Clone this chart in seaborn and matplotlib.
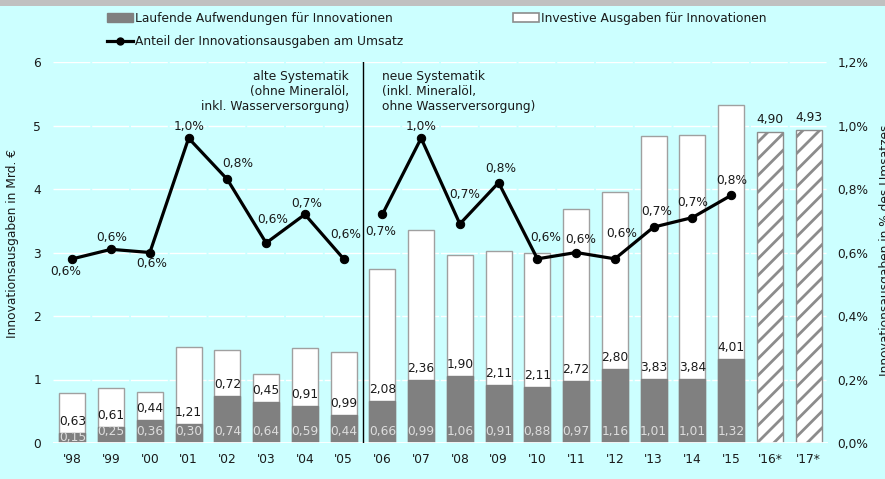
import numpy as np
import pandas as pd
import matplotlib
matplotlib.use("Agg")
import matplotlib.pyplot as plt
from matplotlib.patches import Patch, Rectangle
from matplotlib.lines import Line2D
import seaborn as sns

# ---------------- data ----------------
years = ["'98", "'99", "'00", "'01", "'02", "'03", "'04", "'05", "'06", "'07",
         "'08", "'09", "'10", "'11", "'12", "'13", "'14", "'15", "'16*", "'17*"]
hist_years = years[:18]
forecast_years = years[18:]
running = [0.15, 0.25, 0.36, 0.30, 0.74, 0.64, 0.59, 0.44, 0.66, 0.99,
           1.06, 0.91, 0.88, 0.97, 1.16, 1.01, 1.01, 1.32]
investive = [0.63, 0.61, 0.44, 1.21, 0.72, 0.45, 0.91, 0.99, 2.08, 2.36,
             1.90, 2.11, 2.11, 2.72, 2.80, 3.83, 3.84, 4.01]
forecast_total = [4.90, 4.93]
share = [0.58, 0.61, 0.60, 0.96, 0.83, 0.63, 0.72, 0.58,
         0.72, 0.96, 0.69, 0.82, 0.58, 0.60, 0.58, 0.68, 0.71, 0.78]
system = ["alt"] * 8 + ["neu"] * 10
left_ticks = [0, 1, 2, 3, 4, 5, 6]
right_ticks = [0.0, 0.2, 0.4, 0.6, 0.8, 1.0, 1.2]

# label offsets (pixels) for the share labels, purely layout
share_label_offsets = [(-7, -13), (1, 12), (2, -11), (0, 12), (10, 16), (7, 23),
                       (2, 11), (2, 24), (-2, -17), (0, 12), (5, 29), (2, 14),
                       (8, 21), (5, 13), (7, 25), (3, 16), (0, 15), (1, 15)]

def de(v, fmt="{:.2f}"):
    return fmt.format(v).replace(".", ",")

# ---------------- style ----------------
BG = "#CCFFFF"
TXT = "#1a1a1a"
FS = 8.8
plt.rcParams["font.family"] = ["DejaVu Sans"]
plt.rcParams["font.size"] = FS
plt.rcParams["hatch.linewidth"] = 2.0
plt.rcParams["hatch.color"] = "#8C8C8C"

fig = plt.figure(figsize=(8.85, 4.79), dpi=100)
fig.patch.set_facecolor(BG)
fig.add_artist(Rectangle((0, 1 - 6 / 479), 1, 6 / 479, transform=fig.transFigure,
                         facecolor="#C0C0C0", edgecolor="none"))

ax = fig.add_axes([53 / 885, 36 / 479, 775 / 885, 381 / 479])
ax.set_facecolor(BG)

df_hist = pd.DataFrame({"year": hist_years,
                        "total": np.array(running) + np.array(investive),
                        "running": running,
                        "investive": investive})
df_fc = pd.DataFrame({"year": forecast_years, "total": forecast_total})

common = dict(order=years, width=0.67, saturation=1, errorbar=None, ax=ax)
sns.barplot(data=df_hist, x="year", y="total", color="white",
            edgecolor="#A0A0A0", linewidth=1.0, zorder=3, **common)
sns.barplot(data=df_hist, x="year", y="running", color="#808080",
            edgecolor="#808080", linewidth=1.0, zorder=3, **common)
sns.barplot(data=df_fc, x="year", y="total", color="white",
            edgecolor="#8C8C8C", linewidth=1.0, hatch="//", zorder=3, **common)

# bar labels
for i, yr in enumerate(hist_years):
    pos = years.index(yr)
    dy = 11 if running[i] >= 0.2 else 5
    ax.annotate(de(running[i]), (pos, 0), xytext=(0, dy), textcoords="offset pixels",
                ha="center", va="center", color="#DDDDDD", zorder=5)
    ax.annotate(de(investive[i]), (pos, running[i]), xytext=(0, 11.5),
                textcoords="offset pixels", ha="center", va="center", color=TXT, zorder=5)
for i, yr in enumerate(forecast_years):
    pos = years.index(yr)
    ax.annotate(de(forecast_total[i]), (pos, forecast_total[i]), xytext=(0, 12),
                textcoords="offset pixels", ha="center", va="center", color=TXT, zorder=5)

# grid and axes cosmetics
ax.set_ylim(0, 6)
ax.set_yticks(left_ticks)
ax.set_yticklabels([str(t) for t in left_ticks])
for t in left_ticks[1:]:
    ax.axhline(t, color="white", lw=1.0, linestyle=(0, (26.5, 1.4)), zorder=1)
ax.axhline(0, color="white", lw=2.0, zorder=4)
ax.axvline(7.5, color="black", lw=1.0, zorder=4)
for s in ax.spines.values():
    s.set_visible(False)
ax.tick_params(axis="both", length=0, colors=TXT, labelsize=FS)
ax.tick_params(axis="y", pad=8.5)
ax.tick_params(axis="x", pad=7.5)
ax.set_xlabel("")
ax.set_ylabel("")

# share line on right axis
ax2 = ax.twinx()
df_line = pd.DataFrame({"pos": [years.index(y) for y in hist_years],
                        "share": share, "system": system})
sns.lineplot(data=df_line, x="pos", y="share", units="system", estimator=None,
             color="black", lw=2.3, marker="o", markersize=6, markeredgecolor="black",
             legend=False, ax=ax2, zorder=6)
for i, yr in enumerate(hist_years):
    dx, dy = share_label_offsets[i]
    ax2.annotate(de(share[i], "{:.1f}") + "%", (years.index(yr), share[i]),
                 xytext=(dx, dy), textcoords="offset pixels",
                 ha="center", va="center", color=TXT, zorder=7)
ax2.set_ylim(0, 1.2)
ax2.set_yticks(right_ticks)
ax2.set_yticklabels([de(t, "{:.1f}") + "%" for t in right_ticks])
ax2.tick_params(axis="y", length=0, colors=TXT, labelsize=FS, pad=7)
ax2.set_ylabel("")
ax2.set_xlabel("")
for s in ax2.spines.values():
    s.set_visible(False)
ax.set_xlim(-0.5, len(years) - 0.5)

# system annotations
ax.text(0.382, 0.980, "alte Systematik\n(ohne Mineralöl,\ninkl. Wasserversorgung)",
        transform=ax.transAxes, ha="right", va="top", color=TXT, linespacing=1.22)
ax.text(0.424, 0.980, "neue Systematik\n(inkl. Mineralöl,\nohne Wasserversorgung)",
        transform=ax.transAxes, ha="left", va="top", color=TXT, linespacing=1.22)

# axis titles
fig.text(13 / 885, 1 - 243 / 479, "Innovationsausgaben in Mrd. €", rotation=90,
         ha="center", va="center", color=TXT, fontsize=FS)
fig.text(885 / 885, 1 - 250 / 479, "Innovationsausgaben in % des Umsatzes", rotation=90,
         ha="center", va="center", color=TXT, fontsize=FS)

# legends
h_run = Patch(facecolor="#808080", edgecolor="#808080")
h_inv = Patch(facecolor="white", edgecolor="#8C8C8C", linewidth=1.2)
h_line = Line2D([], [], color="black", lw=2.3, marker="o", markersize=5)
leg_kw = dict(loc="upper left", frameon=False, borderpad=0, borderaxespad=0,
              handlelength=2.15, handletextpad=0.17, labelspacing=0.85,
              fontsize=FS, labelcolor=TXT)
fig.legend([h_run, h_line], ["Laufende Aufwendungen für Innovationen",
                             "Anteil der Innovationsausgaben am Umsatz"],
           bbox_to_anchor=(107 / 885, 1 - 12 / 479), **leg_kw)
fig.legend([h_inv], ["Investive Ausgaben für Innovationen"],
           bbox_to_anchor=(513 / 885, 1 - 12 / 479), **leg_kw)

fig.savefig("out.png", dpi=100, facecolor=BG)
